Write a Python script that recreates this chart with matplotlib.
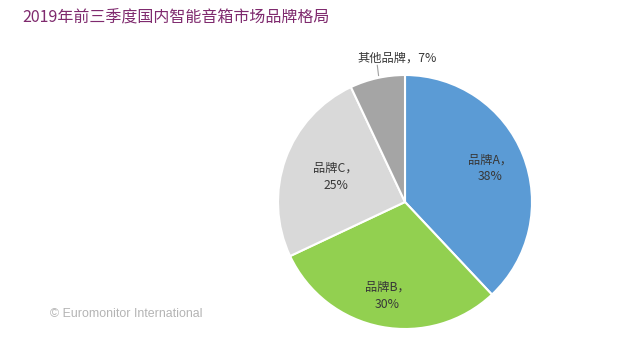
import matplotlib
matplotlib.use("Agg")
import matplotlib.pyplot as plt
import numpy as np

plt.rcParams['font.family'] = ['Noto Sans CJK SC', 'DejaVu Sans']

# ── Dados ─────────────────────────────────────────────────────────────────────
brands = ["品牌A", "品牌B", "品牌C", "其他品牌"]
shares = [38, 30, 25, 7]
colors = ["#5b9bd5", "#92d050", "#d9d9d9", "#a5a5a5"]
label_dist = [0.72, 0.75, 0.58]

W, H = 640, 352
fig = plt.figure(figsize=(W / 100, H / 100), dpi=100)
fig.patch.set_facecolor("white")

fig.text(22 / W, 1 - 18 / H, "2019年前三季度国内智能音箱市场品牌格局",
         fontsize=11.5, color="#7f2a6e", va="center", ha="left")
fig.text(50 / W, 1 - 314 / H, "© Euromonitor International",
         fontsize=8.9, color="#b4b4b4", va="center", ha="left",
         family=["Liberation Sans", "DejaVu Sans"])

cx, cy, r = 405, 202, 127
ax = fig.add_axes([(cx - r) / W, 1 - (cy + r) / H, 2 * r / W, 2 * r / H])
wedges, _ = ax.pie(shares, colors=colors, startangle=90, counterclock=False,
                   wedgeprops=dict(edgecolor="white", linewidth=1.5))
ax.set_xlim(-1, 1)
ax.set_ylim(-1, 1)
ax.set_aspect("auto")
ax.axis("off")

for i, w in enumerate(wedges):
    ang = np.deg2rad((w.theta1 + w.theta2) / 2)
    if i < 3:
        d = label_dist[i]
        ax.text(d * np.cos(ang), d * np.sin(ang), f"{brands[i]}，\n{shares[i]}%",
                ha="center", va="center", fontsize=8.8, color="#383838",
                linespacing=1.4, fontweight="medium")
    else:
        x0, y0 = 1.0 * np.cos(ang), 1.0 * np.sin(ang)
        ax.plot([x0 + 0.01, x0], [y0 + 0.02, y0 + 0.1], color="#a0a0a0", lw=0.8,
                clip_on=False)
        ax.text(-0.06, 1.13, f"{brands[i]}，{shares[i]}%", ha="center", va="center",
                fontsize=8.8, color="#383838", fontweight="medium")

fig.savefig("out.png", dpi=100)
